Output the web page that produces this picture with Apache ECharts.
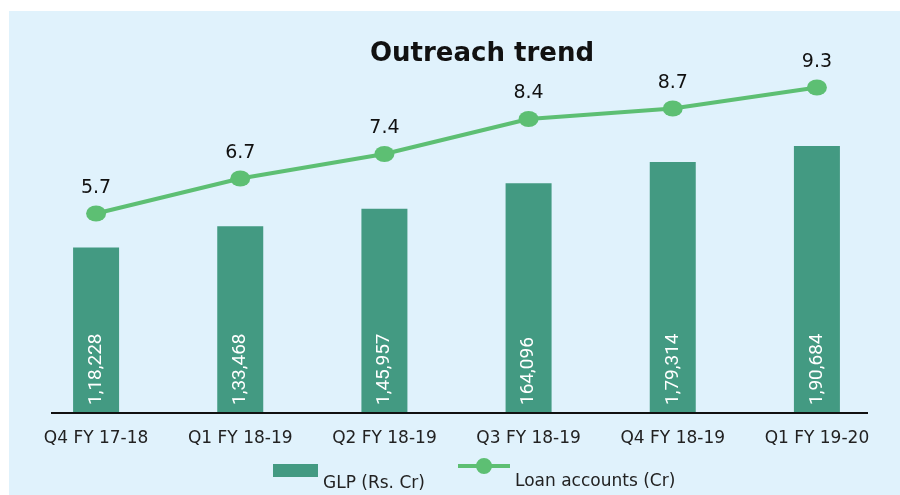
<!DOCTYPE html>
<html>
<head>
<meta charset="utf-8">
<script src="https://cdn.jsdelivr.net/npm/echarts@6/dist/echarts.min.js"></script>
<style>
  html, body { margin: 0; padding: 0; background: #fff; }
  #main { width: 900px; height: 495px; }
</style>
</head>
<body>
<div id="main"></div>
<script>
// quarters on the x axis
var quarters = ['Q4 FY 17-18', 'Q1 FY 18-19', 'Q2 FY 18-19', 'Q3 FY 18-19', 'Q4 FY 18-19', 'Q1 FY 19-20'];
// GLP in Rs. Cr
var glp = [118228, 133468, 145957, 164096, 179314, 190684];
var glpLabels = ['1,18,228', '1,33,468', '1,45,957', '164,096', '1,79,314', '1,90,684'];
// loan accounts in Cr
var loans = [5.7, 6.7, 7.4, 8.4, 8.7, 9.3];

var chart = echarts.init(document.getElementById('main'));

var font = '"DejaVu Sans", sans-serif';
var legendText = function (name) { return '{t|' + name + '}'; };

var option = {
  animation: false,
  textStyle: { fontFamily: font },
  graphic: [{
    type: 'rect',
    z: -10,
    shape: { x: 9, y: 11, width: 900, height: 500 },
    style: { fill: '#e0f2fc' }
  }, {
    type: 'line',
    z: 10,
    shape: { x1: 51, y1: 413, x2: 868, y2: 413 },
    style: { stroke: '#111', lineWidth: 2 }
  }],
  title: {
    text: 'Outreach trend',
    left: 477, top: 36, textAlign: 'center',
    textStyle: { fontSize: 26, fontWeight: 'bold', color: '#111', fontFamily: font }
  },
  legend: [{
    left: 268, top: 459,
    itemWidth: 45, itemHeight: 13,
    icon: 'rect',
    formatter: legendText,
    textStyle: { rich: { t: { fontSize: 17, color: '#222', padding: [26, 0, 0, 0], fontFamily: font } } },
    data: ['GLP (Rs. Cr)']
  }, {
    left: 453, top: 453,
    itemWidth: 52, itemHeight: 17,
    icon: 'path://M0,7 L52,7 L52,11 L0,11 Z M18,9 A8,8 0 1 1 34,9 A8,8 0 1 1 18,9 Z',
    formatter: legendText,
    textStyle: { rich: { t: { fontSize: 17, color: '#222', padding: [31, 0, 0, 0], fontFamily: font } } },
    data: ['Loan accounts (Cr)']
  }],
  grid: { left: 24, right: 11, top: 63, bottom: 82 },
  xAxis: {
    type: 'category',
    data: quarters,
    axisLine: { show: false },
    axisTick: { show: false },
    axisLabel: { fontSize: 17, color: '#222', margin: 17 }
  },
  yAxis: [{
    type: 'value', min: 0, max: 250000, show: false, splitLine: { show: false }
  }, {
    type: 'value', min: 0, max: 10, show: false, splitLine: { show: false }
  }],
  series: [{
    name: 'GLP (Rs. Cr)',
    type: 'bar',
    barWidth: 46,
    data: glp,
    itemStyle: { color: '#439a82' },
    label: {
      show: true,
      position: 'insideBottom',
      rotate: 90,
      align: 'left',
      verticalAlign: 'middle',
      distance: 8,
      color: '#fff',
      fontSize: 19,
      fontFamily: 'Roboto, sans-serif',
      formatter: function (p) { return glpLabels[p.dataIndex]; }
    }
  }, {
    name: 'Loan accounts (Cr)',
    type: 'line',
    yAxisIndex: 1,
    data: loans,
    symbol: 'circle',
    symbolSize: [20, 16],
    lineStyle: { color: '#5dbf73', width: 4 },
    itemStyle: { color: '#5dbf73' },
    label: {
      show: true,
      position: 'top',
      distance: 8,
      color: '#111',
      fontSize: 19
    }
  }]
};

chart.setOption(option);
</script>
</body>
</html>
